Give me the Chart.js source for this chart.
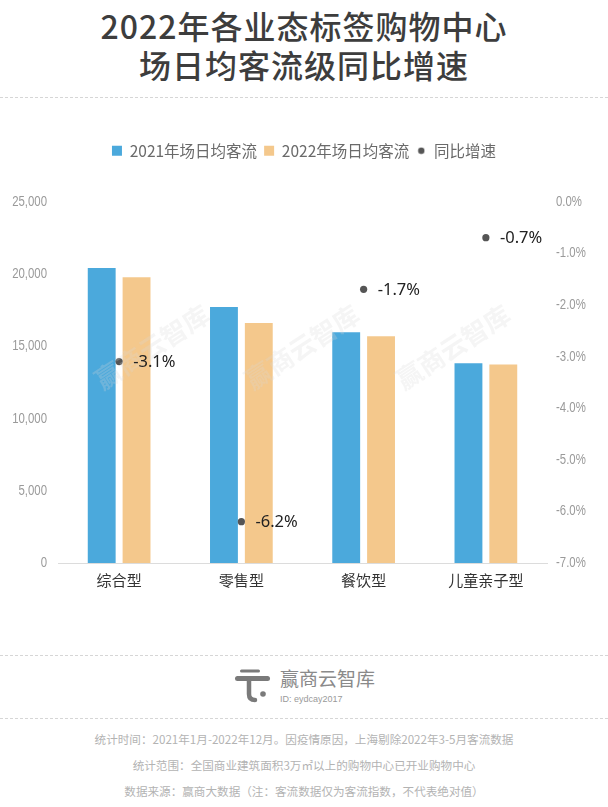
<!DOCTYPE html>
<html>
<head>
<meta charset="utf-8">
<script src="https://cdn.jsdelivr.net/npm/chart.js@4.4.1/dist/chart.umd.min.js"></script>
<style>
  html, body { margin: 0; padding: 0; background: #fff; }
  body { width: 608px; height: 807px; position: relative; overflow: hidden; font-family: "Noto Sans CJK SC", "Noto Sans", sans-serif; }
  .title { position: absolute; left: 0; width: 608px; text-align: center; color: #3d3d3d; font-size: 32px; font-weight: 500; letter-spacing: 1px; }
  .dash { position: absolute; left: 0; width: 608px; border-top: 1px dashed #d6d6d6; }
  .foot { position: absolute; left: 0; width: 608px; text-align: center; color: #b3b3b3; font-size: 11.6px; }
  #wrap { position: absolute; left: 0; top: 128px; }
</style>
</head>
<body>
<div class="title" style="top:2px;">2022年各业态标签购物中心</div>
<div class="title" style="top:41px;">场日均客流级同比增速</div>
<div class="dash" style="top:97px;"></div>

<div id="wrap"><canvas id="chart" width="608" height="469"></canvas></div>

<div class="dash" style="top:655px;"></div>
<svg style="position:absolute;left:230px;top:665px;" width="42" height="42" viewBox="0 0 42 42">
  <line x1="11.5" y1="6" x2="28.5" y2="6" stroke="#7a7a7a" stroke-width="3" stroke-linecap="round"/>
  <line x1="7.5" y1="13.5" x2="37.5" y2="13.5" stroke="#7a7a7a" stroke-width="5" stroke-linecap="round"/>
  <path d="M19 15 L19 29 Q19 35 25 35" stroke="#7a7a7a" stroke-width="4.5" fill="none" stroke-linecap="round"/>
  <circle cx="33" cy="29" r="2.8" fill="#7a7a7a"/>
</svg>
<div style="position:absolute;left:280px;top:666px;font-size:19px;color:#8a8a8a;line-height:24px;">赢商云智库</div>
<div style="position:absolute;left:280px;top:693px;font-size:9px;color:#9a9a9a;font-family:'Liberation Sans',sans-serif;line-height:12px;">ID: eydcay2017</div>
<div class="dash" style="top:718px;"></div>

<div class="foot" style="top:731px;">统计时间：2021年1月-2022年12月。因疫情原因，上海剔除2022年3-5月客流数据</div>
<div class="foot" style="top:757px;">统计范围：全国商业建筑面积3万㎡以上的购物中心已开业购物中心</div>
<div class="foot" style="top:783px;">数据来源：赢商大数据（注：客流数据仅为客流指数，不代表绝对值）</div>

<script>
// data
const categories = ["综合型", "零售型", "餐饮型", "儿童亲子型"];
const flow2021 = [20400, 17700, 15950, 13820];
const flow2022 = [19770, 16600, 15680, 13720];
const growth = [-3.1, -6.2, -1.7, -0.7];
const leftTicks = [0, 5000, 10000, 15000, 20000, 25000];
const rightTicks = [0, -1, -2, -3, -4, -5, -6, -7];

// small dot used as legend marker for the growth series
const dot = document.createElement("canvas");
dot.width = 8; dot.height = 8;
{
    const c = dot.getContext("2d");
    c.fillStyle = "#555";
    c.beginPath(); c.arc(4, 4, 3.2, 0, Math.PI * 2); c.fill();
}

// extra room between legend and plot
const legendGap = {
    id: "legendGap",
    beforeLayout(chart) {
        const lg = chart.legend;
        if (lg && !lg._gapPatched) {
            const fit = lg.fit;
            lg.fit = function () {
                fit.apply(this, arguments);
                this.height += 33;
            };
            lg._gapPatched = true;
        }
    },
};

// condensed tick labels, watermark, value labels
const drawPlugin = {
    id: "extraDraw",
    afterDatasetsDraw(chart) {
        const { ctx } = chart;
        const top = chart.canvas.getBoundingClientRect().top;
        ctx.save();
        ctx.font = "bold 26px 'Noto Sans CJK SC'";
        ctx.fillStyle = "rgba(215,215,215,0.25)";
        ctx.textAlign = "center";
        ctx.textBaseline = "middle";
        [152, 302, 453].forEach((x) => {
            ctx.save();
            ctx.translate(x, 347 - top);
            ctx.rotate(-33 * Math.PI / 180);
            ctx.fillText("赢商云智库", 0, 0);
            ctx.restore();
        });
        ctx.restore();

        const meta = chart.getDatasetMeta(2);
        ctx.save();
        ctx.fillStyle = "#222";
        ctx.font = "16.5px 'Noto Sans', sans-serif";
        ctx.textAlign = "left";
        ctx.textBaseline = "middle";
        meta.data.forEach((pt, i) => {
            ctx.fillText(growth[i].toFixed(1) + "%", pt.x + 14, pt.y + 1);
        });
        ctx.restore();
    },
    afterDraw(chart) {
        const { ctx } = chart;
        const y = chart.scales.y, y1 = chart.scales.y1;
        ctx.save();
        ctx.font = "15px 'Liberation Sans', sans-serif";
        ctx.fillStyle = "#9a9a9a";
        ctx.textBaseline = "middle";
        leftTicks.forEach((v) => {
            ctx.save();
            ctx.translate(y.right - 11, y.getPixelForValue(v));
            ctx.scale(0.76, 1);
            ctx.textAlign = "right";
            ctx.fillText(v.toLocaleString("en-US"), 0, 0);
            ctx.restore();
        });
        rightTicks.forEach((v) => {
            ctx.save();
            ctx.translate(y1.left + 9, y1.getPixelForValue(v));
            ctx.scale(0.76, 1);
            ctx.textAlign = "left";
            ctx.fillText(v.toFixed(1) + "%", 0, 0);
            ctx.restore();
        });
        ctx.restore();
    },
};

new Chart(document.getElementById("chart"), {
    data: {
        labels: categories,
        datasets: [
            {
                type: "bar",
                label: "2021年场日均客流",
                data: flow2021,
                backgroundColor: "#4ba9dc",
                yAxisID: "y",
                order: 1,
                categoryPercentage: 0.57,
                barPercentage: 0.8,
                pointStyle: "rect",
            },
            {
                type: "bar",
                label: "2022年场日均客流",
                data: flow2022,
                backgroundColor: "#f4c88c",
                yAxisID: "y",
                order: 1,
                categoryPercentage: 0.57,
                barPercentage: 0.8,
                pointStyle: "rect",
            },
            {
                type: "line",
                label: "同比增速",
                data: growth,
                yAxisID: "y1",
                showLine: false,
                pointRadius: 3.6,
                pointBackgroundColor: "#555",
                pointBorderWidth: 0,
                backgroundColor: "#555",
                borderColor: "#555",
                order: 0,
            },
        ],
    },
    options: {
        responsive: false,
        devicePixelRatio: 1,
        animation: false,
        layout: { padding: { top: 8, bottom: 0 } },
        plugins: {
            tooltip: { enabled: false },
            legend: {
                labels: {
                    color: "#6a6a6a",
                    font: { family: "'Noto Sans CJK SC', sans-serif", size: 15.5 },
                    usePointStyle: true,
                    boxWidth: 10,
                    boxHeight: 10,
                    padding: 7,
                    sort: (a, b) => a.datasetIndex - b.datasetIndex,
                    generateLabels(chart) {
                        const items = Chart.defaults.plugins.legend.labels.generateLabels(chart);
                        items.forEach((it) => {
                            it.lineWidth = 0;
                            if (it.datasetIndex === 2) it.pointStyle = dot;
                        });
                        return items;
                    },
                },
            },
        },
        scales: {
            x: {
                grid: { display: false, drawTicks: false },
                border: { color: "#dcdcdc" },
                ticks: { color: "#333", font: { family: "'Noto Sans CJK SC', sans-serif", size: 15 }, padding: 8 },
            },
            y: {
                position: "left",
                min: 0,
                max: 25000,
                afterBuildTicks(scale) { scale.ticks = leftTicks.map((v) => ({ value: v })); },
                afterFit(scale) { scale.width = 58; },
                grid: { display: false, drawTicks: false },
                border: { display: false },
                ticks: {
                    color: "rgba(0,0,0,0)",
                    font: { size: 14 },
                    padding: 11,
                    callback: (v) => v.toLocaleString("en-US"),
                },
            },
            y1: {
                position: "right",
                min: -7,
                max: 0,
                afterBuildTicks(scale) { scale.ticks = rightTicks.map((v) => ({ value: v })); },
                afterFit(scale) { scale.width = 61; },
                grid: { display: false, drawTicks: false },
                border: { display: false },
                ticks: {
                    color: "rgba(0,0,0,0)",
                    font: { size: 14 },
                    padding: 9,
                    callback: (v) => v.toFixed(1) + "%",
                },
            },
        },
    },
    plugins: [legendGap, drawPlugin],
});
</script>
</body>
</html>
